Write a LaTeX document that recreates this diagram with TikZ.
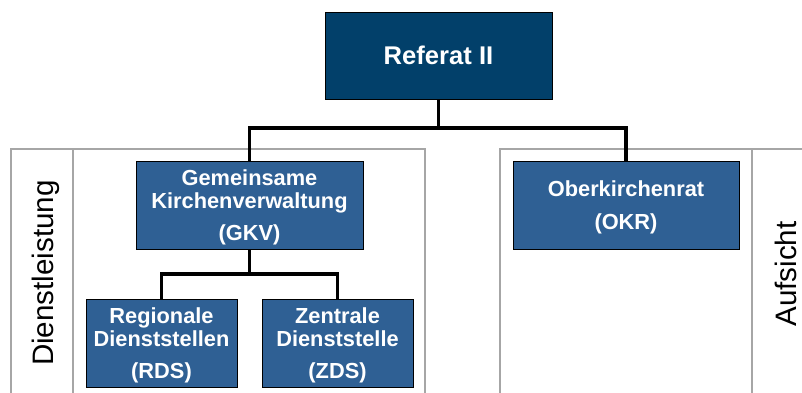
\documentclass[tikz,border=0pt]{standalone}
\usepackage{fontspec}
\setmainfont{Liberation Sans}
\definecolor{topblue}{HTML}{02406A}
\definecolor{unitblue}{HTML}{2F6094}
\definecolor{framegray}{HTML}{A6A6A6}
% raises the top of the first line so the text block sits a little lower
\newcommand\firstlinestrut{\rule{0pt}{20.5pt}}
\tikzset{
  unit/.style={draw=black, line width=0.9pt, fill=unitblue, text=white,
    font=\fontsize{21.8}{23.3}\selectfont\bfseries, align=center,
    inner sep=0pt, minimum height=88pt},
  head/.style={draw=black, line width=0.9pt, fill=topblue, text=white,
    font=\fontsize{25.6}{28}\selectfont\bfseries, align=center,
    inner sep=0pt, minimum width=227pt, minimum height=87pt},
  link/.style={line width=3.2pt, line join=miter, draw=black},
  frame/.style={draw=framegray, line width=1.5pt},
  side/.style={font=\fontsize{29.6}{32}\selectfont, rotate=90, anchor=base, inner sep=0pt}
}
\begin{document}
\begin{tikzpicture}[x=1pt, y=-1pt]
  \useasboundingbox (0,0) rectangle (802,392);
  % column frames
  \begin{scope}
    \clip (0,0) rectangle (802,392);
    \draw[frame] (11,149) rectangle (425,400);
    \draw[frame] (73,149) -- (73,400);
    \draw[frame] (500,149) rectangle (752,400);
    \draw[frame] (752,149) rectangle (820,400);
  \end{scope}
  % column labels
  \node[side] (dl) at (53.3,273) {Dienstleistung};
  \node[side] (af) at (796.7,274) {Aufsicht};
  % units
  \node[head] (ref) at (438.5,55.5) {Referat II};
  \node[unit, minimum width=227pt] (gkv) at (249.5,205)
    {\firstlinestrut Gemeinsame\\Kirchenverwaltung\\[9pt](GKV)};
  \node[unit, minimum width=226pt] (okr) at (626,205)
    {\firstlinestrut Oberkirchenrat\\[9pt](OKR)};
  \node[unit, minimum width=151pt] (rds) at (161.5,343)
    {\firstlinestrut Regionale\\Dienststellen\\[9pt](RDS)};
  \node[unit, minimum width=151pt] (zds) at (337.5,343)
    {\firstlinestrut Zentrale\\Dienststelle\\[9pt](ZDS)};
  % connectors
  \coordinate (bus) at (438.5,128);
  \coordinate (bus2) at (249.5,274);
  \draw[link] (ref.south) -- (bus);
  \draw[link] (gkv.north) |- (bus) -| (okr.north);
  \draw[link] (gkv.south) -- (bus2);
  \draw[link] (rds.north) |- (bus2) -| (zds.north);
\end{tikzpicture}
\end{document}
